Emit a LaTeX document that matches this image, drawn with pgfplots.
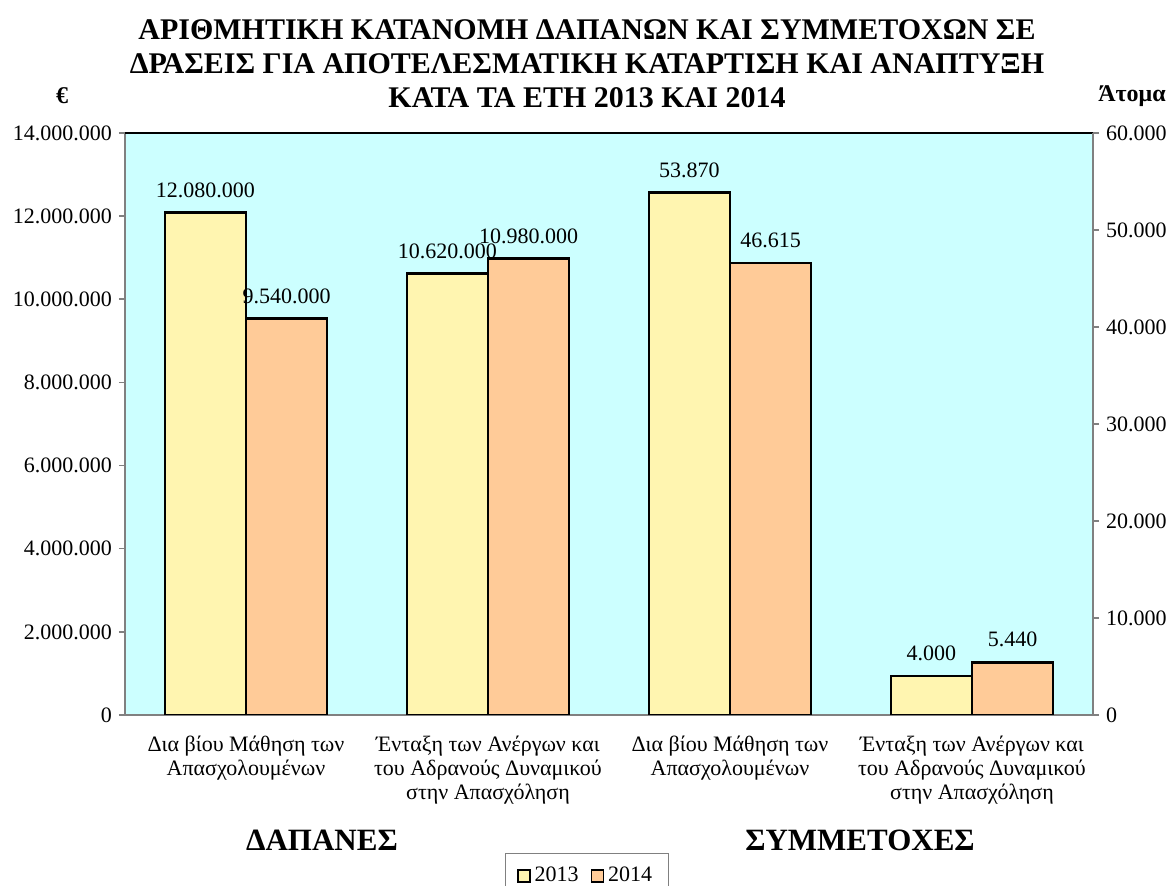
\documentclass[border=0pt]{standalone}
\usepackage{fontspec}
\setmainfont{Liberation Serif}
\usepackage{pgfplots}
\pgfplotsset{compat=1.18}
\definecolor{bg}{HTML}{CCFFFF}
\definecolor{cA}{HTML}{FFF5B0}
\definecolor{cB}{HTML}{FFCB98}
\definecolor{axgray}{HTML}{808080}
\pgfplotsset{
  base/.style={
    scale only axis, width=484pt, height=291pt,
    anchor=south west, at={(62.5pt,85.5pt)},
    xmin=-0.5, xmax=3.5, ymin=0,
    ybar=0pt, bar width=0.335,
    scaled y ticks=false,
    /pgf/number format/fixed,
    /pgf/number format/precision=0,
    /pgf/number format/1000 sep={.},
    /pgf/number format/assume math mode=true,
    tick label style={font=\fontsize{11}{12}\selectfont},
    tick align=outside,
    major tick length=3pt,
    tick style={axgray, line width=0.8pt},
    axis line style={axgray, line width=1pt},
    nodes near coords,
    every node near coord/.style={font=\fontsize{11}{12}\selectfont, black, yshift=3.5pt},
  },
  barA/.style={fill=cA, draw=black, line width=1.3pt,
    nodes near coords style={xshift=-20.27pt}},
  barB/.style={fill=cB, draw=black, line width=1.3pt,
    nodes near coords style={xshift=20.27pt}},
}
\begin{document}
\begin{tikzpicture}
\useasboundingbox (0,0) rectangle (587pt,443pt);
\clip (0,0) rectangle (587pt,443pt);
\begin{axis}[base,
  axis background/.style={fill=bg},
  ymax=14000000,
  ytick={0,2000000,4000000,6000000,8000000,10000000,12000000,14000000},
  ytick pos=left,
  xtick={0,1,2,3},
  xtick pos=bottom,
  xticklabels={{Δια βίου Μάθηση των\\Απασχολουμένων},{Ένταξη των Ανέργων και\\του Αδρανούς Δυναμικού\\στην Απασχόληση},{Δια βίου Μάθηση των\\Απασχολουμένων},{Ένταξη των Ανέργων και\\του Αδρανούς Δυναμικού\\στην Απασχόληση}},
  xticklabel style={align=center, yshift=-4pt},
  x tick style={draw=none},
  extra x ticks={-0.5,0.5,1.5,2.5,3.5},
  extra x tick labels={},
  extra x tick style={tick style={axgray, line width=0.8pt}, major tick length=3pt},
  legend style={at={(0.4768,-0.237)}, anchor=north, legend columns=2, draw=axgray,
    font=\fontsize{11}{12}\selectfont, inner ysep=5pt, inner xsep=6pt,
    /tikz/every even column/.append style={column sep=4pt}},
  legend image code/.code={\draw[#1, line width=0.8pt] (0pt,-3pt) rectangle (6pt,3pt);},
  after end axis/.code={\draw[black, line width=1pt] (rel axis cs:0,1) -- (rel axis cs:1,1);},
]
\addplot[barA] coordinates {(0,12080000) (1,10620000)};
\addplot[barB] coordinates {(0,9540000) (1,10980000)};
\legend{2013,2014}
\end{axis}
\begin{axis}[base,
  ymax=60000,
  ytick={0,10000,20000,30000,40000,50000,60000},
  axis y line*=right,
  axis x line=none,
]
\addplot[barA] coordinates {(2,53870) (3,4000)};
\addplot[barB] coordinates {(2,46615) (3,5440)};
\end{axis}
\node[font=\bfseries\fontsize{15}{17}\selectfont, align=center] at (293.5pt,411pt)
  {ΑΡΙΘΜΗΤΙΚΗ ΚΑΤΑΝΟΜΗ ΔΑΠΑΝΩΝ ΚΑΙ ΣΥΜΜΕΤΟΧΩΝ ΣΕ\\ΔΡΑΣΕΙΣ ΓΙΑ ΑΠΟΤΕΛΕΣΜΑΤΙΚΗ ΚΑΤΑΡΤΙΣΗ ΚΑΙ ΑΝΑΠΤΥΞΗ\\ΚΑΤΑ ΤΑ ΕΤΗ 2013 ΚΑΙ 2014};
\node[font=\bfseries\fontsize{12}{14}\selectfont] at (31pt,395pt) {€};
\node[font=\bfseries\fontsize{12}{14}\selectfont] at (566pt,395pt) {Άτομα};
\node[font=\bfseries\fontsize{15.5}{17}\selectfont] at (161pt,23pt) {ΔΑΠΑΝΕΣ};
\node[font=\bfseries\fontsize{15.5}{17}\selectfont] at (430pt,23pt) {ΣΥΜΜΕΤΟΧΕΣ};
\end{tikzpicture}
\end{document}
